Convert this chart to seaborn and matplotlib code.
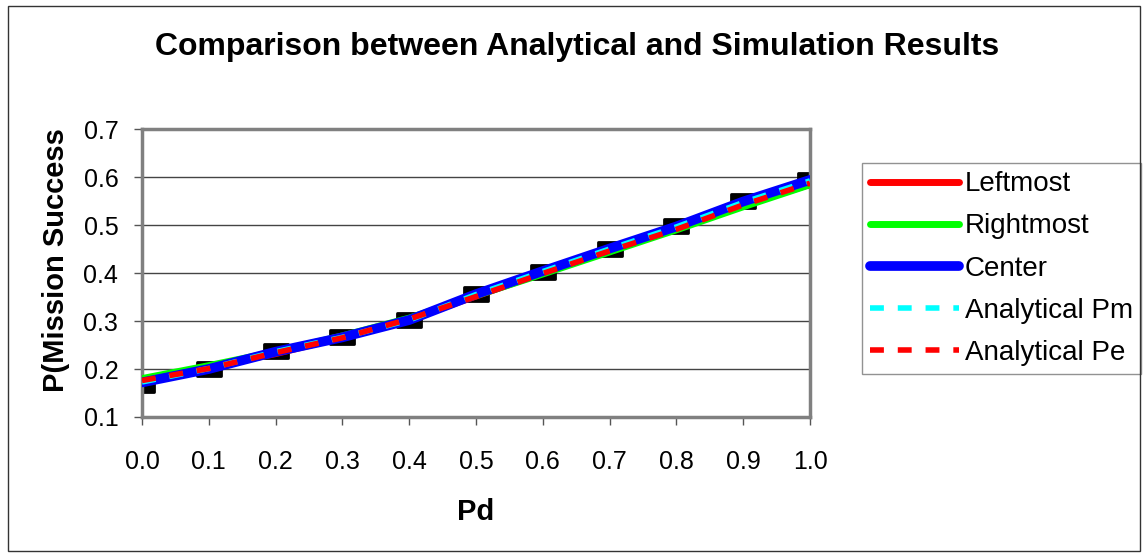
import matplotlib
matplotlib.use("Agg")
import matplotlib.pyplot as plt
import numpy as np
import pandas as pd
import seaborn as sns
from matplotlib.patches import Rectangle
from matplotlib.path import Path

# data
pd_values = [0.0, 0.1, 0.2, 0.3, 0.4, 0.5, 0.6, 0.7, 0.8, 0.9, 1.0]
leftmost = [0.177, 0.204, 0.232, 0.266, 0.303, 0.352, 0.400, 0.447, 0.493, 0.541, 0.585]
rightmost = [0.180, 0.207, 0.236, 0.269, 0.306, 0.353, 0.398, 0.444, 0.490, 0.538, 0.584]
center = [0.172, 0.200, 0.236, 0.266, 0.302, 0.356, 0.404, 0.451, 0.497, 0.549, 0.594]
analytical_pm = [0.173, 0.201, 0.236, 0.266, 0.302, 0.355, 0.403, 0.450, 0.496, 0.547, 0.592]
analytical_pe = [0.176, 0.201, 0.234, 0.265, 0.304, 0.351, 0.399, 0.446, 0.491, 0.542, 0.587]
simulation = [0.167, 0.200, 0.238, 0.266, 0.302, 0.356, 0.403, 0.451, 0.497, 0.549, 0.594]

series = [
    ("Leftmost", leftmost, "#ff0000", "-", 5),
    ("Rightmost", rightmost, "#00ff00", "-", 5),
    ("Center", center, "#0000ff", "-", 7),
    ("Analytical Pm", analytical_pm, "#00ffff", (0, (2.5, 2.5)), 4),
    ("Analytical Pe", analytical_pe, "#ff0000", (0, (2.5, 2.5)), 4),
]

sns.set_style("white")
plt.rcParams["font.family"] = ["Liberation Sans", "DejaVu Sans"]

fig = plt.figure(figsize=(11.43, 5.54), dpi=100)
ax = fig.add_axes([0.1242, 0.2473, 0.5845, 0.5198])

# wide rounded marker for the simulation points
wide = Path([(-1, -0.55), (1, -0.55), (1, 0.55), (-1, 0.55), (-1, -0.55)],
            [Path.MOVETO, Path.LINETO, Path.LINETO, Path.LINETO, Path.CLOSEPOLY])

# simulation points (black markers, no legend entry)
sns.scatterplot(x=pd_values, y=simulation, ax=ax, color="black", marker=wide,
                s=320, linewidth=2, edgecolor="black", legend=False, zorder=2)

for name, vals, col, ls, lw in series:
    sns.lineplot(x=pd_values, y=vals, ax=ax, color=col, linestyle=ls,
                 linewidth=lw, label=name, zorder=3)

ax.set_xlim(0, 1)
ax.set_ylim(0.1, 0.7)
ax.set_xticks(np.arange(0, 1.01, 0.1))
ax.set_yticks(np.arange(0.1, 0.71, 0.1))
ax.set_xticklabels([f"{v:.1f}" for v in np.arange(0, 1.01, 0.1)])
ax.set_yticklabels([f"{v:.1f}" for v in np.arange(0.1, 0.71, 0.1)])
ax.tick_params(axis="both", labelsize=18, labelcolor="black", direction="out",
               length=6, width=1, color="#555555", bottom=True, left=True)
ax.tick_params(axis="x", pad=18)
ax.tick_params(axis="y", pad=11)
ax.yaxis.grid(True, color="#444444", linewidth=1)
ax.set_axisbelow(True)
for sp in ax.spines.values():
    sp.set_color("#808080")
    sp.set_linewidth(2.5)

ax.set_xlabel("Pd", fontsize=21, fontweight="bold", color="black", labelpad=17)
ax.set_ylabel("P(Mission Success", fontsize=21, fontweight="bold", color="black",
              labelpad=10)
ax.yaxis.label.set_y(0.545)

fig.text(0.505, 0.915, "Comparison between Analytical and Simulation Results",
         ha="center", va="center", fontsize=23, fontweight="bold", color="black")

leg = ax.legend(loc="upper left", bbox_to_anchor=(862 / 1143, 1 - 163 / 554),
                bbox_transform=fig.transFigure, fontsize=20, frameon=True,
                fancybox=False, edgecolor="#777777", handlelength=3.2,
                handletextpad=0.2, labelspacing=0.58, borderpad=0.3,
                borderaxespad=0)
leg.get_frame().set_linewidth(1)
for t in leg.get_texts():
    t.set_color("black")
for h in leg.get_lines():
    h.set_solid_capstyle("round")

fig.patches.append(Rectangle((0.007, 0.005), 0.99, 0.985, transform=fig.transFigure,
                             fill=False, edgecolor="#333333", linewidth=1))

fig.savefig("out.png", dpi=100)
